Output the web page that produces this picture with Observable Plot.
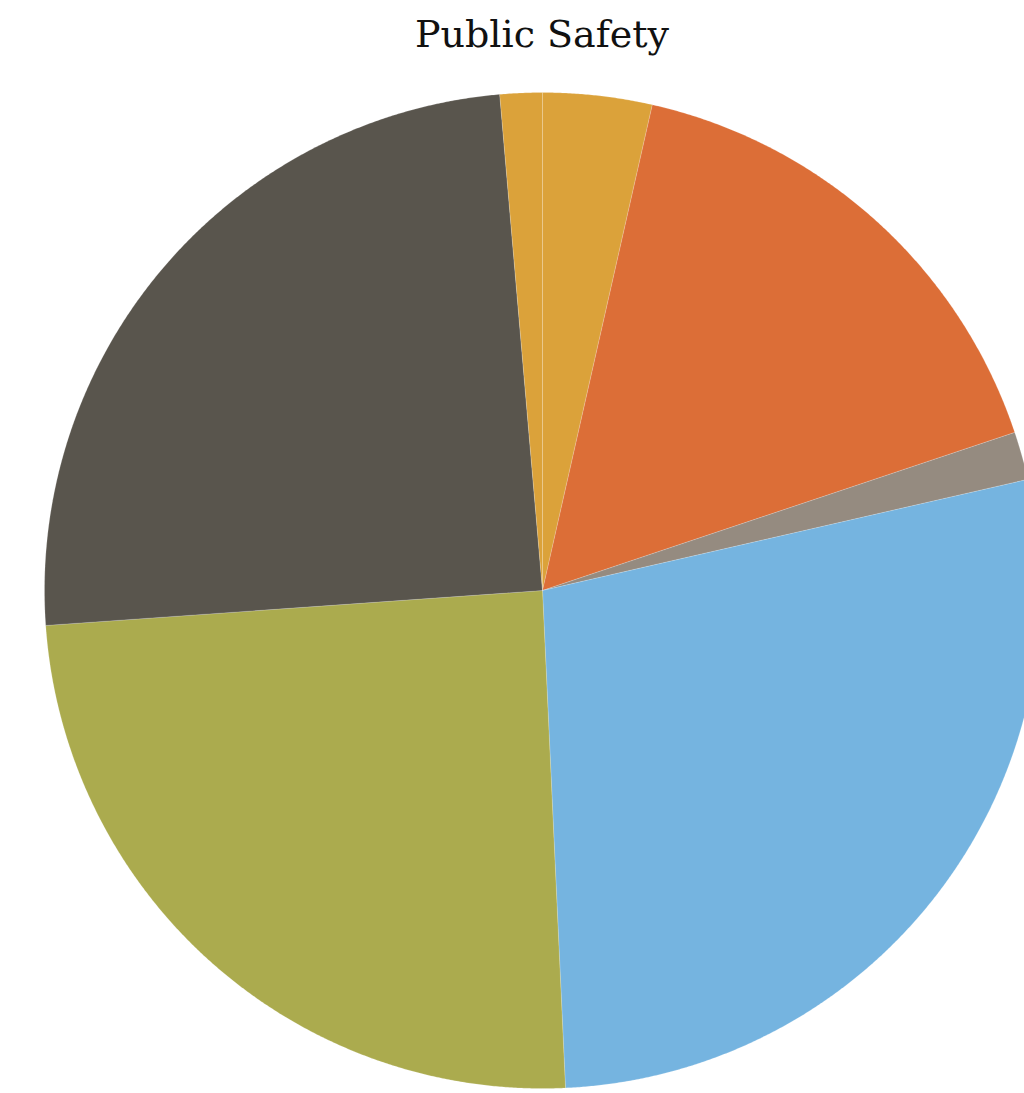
<!DOCTYPE html>
<html>
<head>
<meta charset="utf-8">
<script src="https://cdn.jsdelivr.net/npm/d3@7"></script>
<script src="https://cdn.jsdelivr.net/npm/@observablehq/plot@0.6"></script>
<style>
  html, body { margin: 0; padding: 0; background: #fff; overflow: hidden; }
  #title { height: 70px; line-height: 68px; text-align: center; font-family: "DejaVu Serif", serif; font-size: 38px; color: #111; width: 1084px; white-space: nowrap; }
  #chart svg { display: block; overflow: hidden; }
</style>
</head>
<body>
<div id="title">Public Safety</div>
<div id="chart"></div>
<script>
// Data (share of total, %), clockwise from 12 o'clock
const categories = ["Slice 1", "Slice 2", "Slice 3", "Slice 4", "Slice 5", "Slice 6", "Slice 7"];
const values = [3.54, 16.32, 1.56, 27.85, 24.62, 24.75, 1.37];
const colors = ["#DBA23A", "#DC6E37", "#958B80", "#75B4E0", "#ABAB4E", "#59554D", "#DBA23A"];

// Build slice outlines (unit circle) from the pie layout
const arcs = d3.pie().sort(null).value(d => d)(values);
const pts = [];
arcs.forEach((a, i) => {
  const cat = categories[i];
  pts.push({cat, x: 0, y: 0});
  const n = Math.max(4, Math.ceil((a.endAngle - a.startAngle) / 0.004));
  for (let k = 0; k <= n; ++k) {
    const t = a.startAngle + (a.endAngle - a.startAngle) * k / n;
    pts.push({cat, x: Math.sin(t), y: Math.cos(t)});
  }
  pts.push({cat, x: 0, y: 0});
});

const H = 1023;
const cx = 542, cy = 520, r = 498;
const chart = Plot.plot({
  width: 1024,
  height: H,
  margin: 0,
  style: {background: "white", overflow: "hidden"},
  x: {domain: [-1, 1], range: [cx - r, cx + r], axis: null},
  y: {domain: [-1, 1], range: [cy + r, cy - r], axis: null},
  color: {domain: categories, range: colors},
  marks: [
    Plot.line(pts, {x: "x", y: "y", z: "cat", fill: "cat", stroke: "white", strokeWidth: 0.5, strokeOpacity: 0.35, curve: "linear"})
  ]
});
document.getElementById("chart").appendChild(chart);
</script>
</body>
</html>
